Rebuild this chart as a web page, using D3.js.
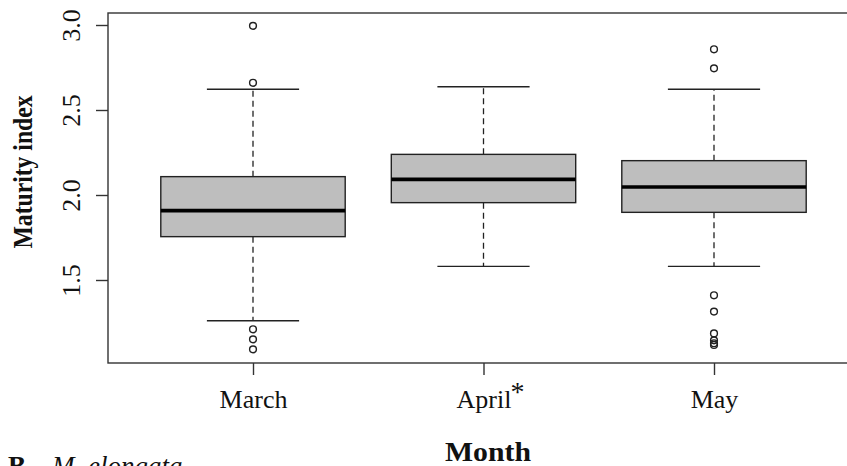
<!DOCTYPE html>
<html>
<head>
<meta charset="utf-8">
<script src="https://cdn.jsdelivr.net/npm/d3@7"></script>
<style>
  html, body { margin: 0; padding: 0; background: #fff; }
  svg { display: block; }
  text { font-family: "Liberation Serif", "Times New Roman", serif; fill: #111; }
</style>
</head>
<body>
<svg id="chart" width="847" height="466"></svg>
<script>
// ---- data (boxplot statistics) ----
const months = ["March", "April", "May"];
const monthMarks = ["", "*", ""];
const whiskerLow = [1.26, 1.58, 1.58];
const q1 = [1.755, 1.955, 1.898];
const medians = [1.908, 2.092, 2.047];
const q3 = [2.108, 2.239, 2.202];
const whiskerHigh = [2.622, 2.637, 2.622];
const outliers = [
  [2.995, 2.66, 1.21, 1.151, 1.092],
  [],
  [2.857, 2.745, 1.41, 1.314, 1.186, 1.145, 1.128, 1.118]
];
const yTicks = [1.5, 2.0, 2.5, 3.0];
const yLabel = "Maturity index";
const xLabel = "Month";
const panelLetter = "B";
const panelSpecies = "M. elongata";

// ---- layout ----
const svg = d3.select("#chart");
const plot = { left: 108, top: 13, right: 859, bottom: 363 };
const y = d3.scaleLinear().domain([1.5, 3.0]).range([280, 25]);
const x = d3.scaleLinear().domain([0, 2]).range([253, 714]);
const step = x(1) - x(0);
const boxW = step * 0.8;
const stapleW = boxW / 2;
const ink = "#222";

// frame
svg.append("rect")
  .attr("x", plot.left).attr("y", plot.top)
  .attr("width", plot.right - plot.left).attr("height", plot.bottom - plot.top)
  .attr("fill", "none").attr("stroke", "#333").attr("stroke-width", 1.4);

// y axis
const yAxis = d3.axisLeft(y).tickValues(yTicks).tickFormat(d3.format(".1f"))
  .tickSize(12).tickPadding(0);
const gy = svg.append("g").attr("transform", `translate(${plot.left},0)`).call(yAxis);
gy.select(".domain").remove();
gy.selectAll(".tick line").attr("stroke", "#333").attr("stroke-width", 1.4);
gy.selectAll(".tick text")
  .attr("x", null).attr("dy", null)
  .attr("text-anchor", "middle")
  .attr("transform", "translate(-28,0) rotate(-90)")
  .attr("font-size", 26).attr("fill", "#222")
  .style("font-family", "'Liberation Serif', serif");

// x axis
const xAxis = d3.axisBottom(x).tickValues([0, 1, 2]).tickFormat(i => months[i])
  .tickSize(12).tickPadding(0);
const gx = svg.append("g").attr("transform", `translate(0,${plot.bottom})`).call(xAxis);
gx.select(".domain").remove();
gx.selectAll(".tick line").attr("stroke", "#333").attr("stroke-width", 1.4);
gx.selectAll(".tick text")
  .attr("y", 45).attr("dy", null)
  .attr("font-size", 26).attr("fill", "#111")
  .style("font-family", "'Liberation Serif', serif");
gx.selectAll(".tick").each(function(i) {
  if (!monthMarks[i]) return;
  const t = d3.select(this).select("text");
  const w = t.node().getComputedTextLength();
  t.attr("text-anchor", "start").attr("x", -w / 2);
  t.append("tspan")
    .attr("dx", -1).attr("dy", -7)
    .attr("font-size", 28)
    .text(monthMarks[i]);
});

// boxes
const g = svg.append("g");
months.forEach((m, i) => {
  const cx = x(i);
  // dashed whiskers
  g.append("line").attr("x1", cx).attr("x2", cx)
    .attr("y1", y(q3[i])).attr("y2", y(whiskerHigh[i]))
    .attr("stroke", ink).attr("stroke-width", 1.3).attr("stroke-dasharray", "6,4");
  g.append("line").attr("x1", cx).attr("x2", cx)
    .attr("y1", y(q1[i])).attr("y2", y(whiskerLow[i]))
    .attr("stroke", ink).attr("stroke-width", 1.3).attr("stroke-dasharray", "6,4");
  // staples
  [whiskerHigh[i], whiskerLow[i]].forEach(v => {
    g.append("line").attr("x1", cx - stapleW / 2).attr("x2", cx + stapleW / 2)
      .attr("y1", y(v)).attr("y2", y(v))
      .attr("stroke", ink).attr("stroke-width", 1.4);
  });
  // box
  g.append("rect")
    .attr("x", cx - boxW / 2).attr("y", y(q3[i]))
    .attr("width", boxW).attr("height", y(q1[i]) - y(q3[i]))
    .attr("fill", "#bebebe").attr("stroke", ink).attr("stroke-width", 1.4);
  // median
  g.append("line").attr("x1", cx - boxW / 2).attr("x2", cx + boxW / 2)
    .attr("y1", y(medians[i])).attr("y2", y(medians[i]))
    .attr("stroke", "#000").attr("stroke-width", 3.6);
  // outliers
  outliers[i].forEach(v => {
    g.append("circle").attr("cx", cx).attr("cy", y(v)).attr("r", 3.4)
      .attr("fill", "none").attr("stroke", ink).attr("stroke-width", 1.4);
  });
});

// axis titles
svg.append("text")
  .attr("transform", "translate(32,172) rotate(-90)")
  .attr("text-anchor", "middle")
  .attr("font-size", 27).attr("font-weight", "bold")
  .attr("textLength", 153).attr("lengthAdjust", "spacingAndGlyphs")
  .text(yLabel);
svg.append("text")
  .attr("x", 488).attr("y", 461)
  .attr("text-anchor", "middle")
  .attr("font-size", 28).attr("font-weight", "bold")
  .attr("textLength", 86).attr("lengthAdjust", "spacingAndGlyphs")
  .text(xLabel);

// panel caption (cut off at bottom)
const cap = svg.append("text").attr("x", 8).attr("y", 475).attr("font-size", 27);
cap.append("tspan").attr("font-weight", "bold").text(panelLetter);
cap.append("tspan").attr("dx", 26).attr("font-style", "italic").text(panelSpecies);
</script>
</body>
</html>
